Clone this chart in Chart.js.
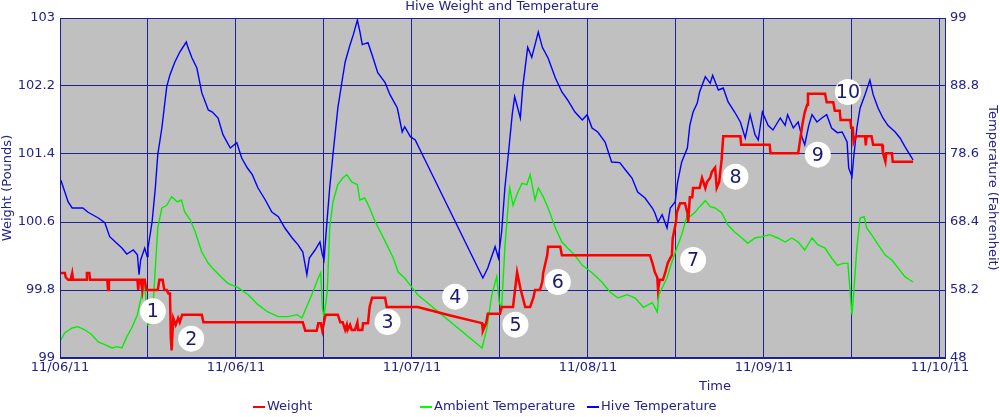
<!DOCTYPE html>
<html>
<head>
<meta charset="utf-8">
<script src="https://cdn.jsdelivr.net/npm/chart.js@4.4.1/dist/chart.umd.min.js"></script>
<style>
  html, body { margin: 0; padding: 0; background: #ffffff; }
  #wrap { width: 1000px; height: 417px; }
</style>
</head>
<body>
<div id="wrap"><canvas id="hiveChart" width="1000" height="417"></canvas></div>
<script>
// x values are hours since the first sample
const tickHours = [0, 10.8, 21.6, 32.4, 43.2, 54, 64.8, 75.6, 86.4, 97.2, 108];
const dateLabels = ['11/06/11', '11/06/11', '11/07/11', '11/08/11', '11/09/11', '11/10/11'];
const weightTicks = [99, 99.8, 100.6, 101.4, 102.2, 103];
const tempTicks = [48, 58.2, 68.4, 78.6, 88.8, 99];

// Weight (pounds)
const weightHours = [0.1, 0.6, 0.7, 1.0, 1.3, 1.5, 1.6, 3.2, 3.3, 3.6, 3.7, 5.8, 5.9, 6.0, 9.5, 9.6, 9.7, 9.9, 10.1, 10.2, 10.4, 10.6,
  12.0, 12.2, 12.6, 12.8, 13.1, 13.3, 13.5, 13.6, 13.7, 13.9, 14.2, 14.5, 14.7, 15.0, 17.4, 17.6, 29.8, 30.1, 31.5, 31.7, 32.0, 32.2,
  32.4, 32.6, 34.1, 34.4, 34.7, 35.0, 35.2, 35.3, 35.6, 35.8, 36.2, 36.5, 36.6, 37.1, 37.2, 37.8, 38.0, 38.3, 39.9, 40.1, 43.9, 47.9,
  51.8, 51.9, 52.3, 52.5, 54.0, 54.2, 55.6, 56.1, 56.5, 57.1, 57.7, 58.1, 58.3, 58.9, 59.2, 59.3, 59.8, 59.9, 61.4, 61.6, 72.4, 72.7,
  73.0, 73.3, 73.4, 73.6, 74.0, 74.3, 74.6, 75.1, 75.2, 75.6, 75.7, 76.1, 76.7, 77.0, 77.1, 77.3, 77.6, 77.7, 78.5, 78.8, 79.2, 79.4,
  79.8, 80.0, 80.4, 80.6, 80.9, 81.2, 81.4, 83.5, 83.6, 87.1, 87.2, 90.6, 90.8, 91.1, 91.4, 91.7, 91.8, 93.9, 94.1, 94.9, 95.1, 95.7,
  95.8, 97.0, 97.1, 97.3, 97.4, 97.7, 98.8, 98.9, 99.0, 99.6, 99.8, 100.9, 101.0, 101.3, 101.4, 102.1, 102.2, 104.7];
const weightValues = [100.0, 100.0, 99.95, 99.92, 99.92, 100.0, 99.92, 99.92, 100.0, 100.0, 99.92, 99.92, 99.8, 99.92, 99.92, 99.8, 99.92, 99.92, 99.8, 99.92, 99.92, 99.8,
  99.8, 99.92, 99.92, 99.8, 99.8, 99.76, 99.76, 99.24, 99.09, 99.47, 99.39, 99.47, 99.42, 99.51, 99.51, 99.42, 99.42, 99.32, 99.32, 99.41, 99.41, 99.32,
  99.42, 99.51, 99.51, 99.42, 99.42, 99.33, 99.39, 99.33, 99.39, 99.33, 99.33, 99.42, 99.33, 99.33, 99.41, 99.41, 99.6, 99.71, 99.71, 99.6, 99.6, 99.5,
  99.41, 99.32, 99.41, 99.52, 99.52, 99.6, 99.6, 100.01, 99.82, 99.6, 99.6, 99.71, 99.8, 99.8, 99.9, 100.0, 100.21, 100.31, 100.31, 100.21, 100.21, 100.12,
  100.01, 99.95, 99.8, 99.92, 99.92, 100.01, 100.12, 100.21, 100.41, 100.6, 100.71, 100.82, 100.82, 100.71, 100.6, 100.89, 100.89, 101.0, 101.0, 101.12, 101.0, 101.07,
  101.12, 101.19, 101.24, 101.0, 101.07, 101.33, 101.61, 101.61, 101.51, 101.51, 101.41, 101.41, 101.54, 101.74, 101.89, 101.98, 102.11, 102.11, 102.01, 102.01, 101.91, 101.91,
  101.8, 101.8, 101.71, 101.71, 101.54, 101.61, 101.61, 101.5, 101.61, 101.61, 101.51, 101.51, 101.41, 101.31, 101.41, 101.41, 101.31, 101.31];

// Ambient temperature (F)
const ambientHours = [0.1, 0.6, 1.5, 2.2, 3.1, 3.9, 4.7, 5.5, 6.4, 7.0, 7.6, 8.2, 8.8, 9.5, 10.1, 10.4, 10.8, 11.3, 11.7, 12.0, 12.5, 13.1,
  13.7, 14.4, 14.9, 15.3, 16.0, 16.6, 17.4, 18.2, 18.7, 19.9, 20.6, 21.8, 23.1, 24.3, 25.5, 26.8, 28.0, 29.1, 29.7, 30.1, 30.9, 31.7,
  32.0, 32.2, 32.4, 32.8, 33.1, 33.5, 34.1, 34.7, 35.2, 35.8, 36.5, 36.8, 37.4, 38.0, 38.7, 39.5, 40.1, 40.9, 41.5, 42.3, 43.2, 43.9,
  51.8, 52.4, 53.0, 53.6, 53.9, 54.2, 54.6, 55.1, 55.2, 55.6, 56.2, 56.7, 57.3, 57.7, 58.3, 58.7, 59.3, 59.9, 60.8, 61.6, 62.3, 63.2,
  64.1, 65.3, 66.5, 67.5, 68.5, 69.6, 70.6, 71.6, 72.7, 73.3, 73.5, 73.9, 74.5, 75.1, 75.7, 76.3, 77.0, 77.3, 77.9, 78.5, 79.2, 79.8,
  80.4, 81.2, 82.0, 82.8, 83.7, 84.4, 85.3, 86.2, 87.1, 88.1, 89.0, 89.8, 90.6, 91.4, 92.3, 93.0, 93.9, 94.7, 95.4, 96.1, 96.7, 97.0,
  97.2, 97.4, 97.8, 98.2, 98.7, 99.0, 99.6, 100.4, 101.3, 102.1, 102.8, 103.7, 104.3, 104.7];
const ambientValues = [50.7, 51.8, 52.5, 52.7, 52.2, 51.5, 50.4, 50.0, 49.5, 49.7, 49.5, 51.2, 52.5, 54.5, 57.9, 59.0, 53.0, 53.4, 61.5, 67.5, 70.5, 70.9,
  72.2, 71.4, 71.7, 69.9, 68.7, 66.9, 63.9, 62.2, 61.5, 60.0, 59.2, 58.6, 57.5, 56.0, 54.9, 54.2, 54.2, 54.5, 54.0, 55.2, 57.5, 60.0,
  60.8, 55.5, 54.2, 57.9, 67.5, 71.4, 74.0, 75.0, 75.5, 74.4, 74.0, 71.7, 72.0, 70.5, 68.4, 66.5, 65.0, 63.0, 60.9, 60.0, 58.6, 57.5,
  49.5, 52.5, 57.5, 60.2, 56.4, 55.5, 64.5, 72.5, 73.5, 70.9, 72.9, 74.2, 74.0, 75.5, 71.7, 73.5, 72.2, 70.5, 67.5, 65.4, 64.5, 63.4,
  61.9, 60.8, 59.4, 57.9, 57.0, 57.5, 57.0, 55.6, 56.3, 54.9, 57.5, 58.5, 60.0, 62.4, 64.5, 66.5, 69.5, 69.2, 69.8, 70.7, 71.6, 70.7,
  70.5, 69.8, 67.9, 66.9, 66.0, 65.2, 66.0, 66.2, 66.5, 66.0, 65.4, 66.0, 65.4, 64.2, 66.0, 65.0, 64.5, 63.0, 61.9, 62.2, 62.2, 57.5,
  54.5, 57.5, 64.5, 69.0, 69.2, 67.5, 66.5, 65.0, 63.4, 62.7, 61.6, 60.2, 59.7, 59.4];

// Hive temperature (F)
const hiveHours = [0.1, 1.0, 1.5, 2.8, 3.4, 4.7, 5.5, 6.1, 6.8, 7.6, 8.2, 9.0, 9.5, 9.7, 9.9, 10.4, 10.7, 10.8, 11.3, 11.7, 12.0, 12.5,
  13.1, 13.5, 14.1, 14.7, 15.5, 15.7, 16.2, 16.8, 17.4, 18.2, 18.7, 19.4, 20.0, 20.9, 21.7, 22.3, 23.0, 23.6, 24.3, 25.2, 26.0, 26.8,
  27.6, 28.5, 29.2, 29.8, 30.3, 30.6, 31.3, 31.9, 32.2, 32.4, 32.8, 33.1, 33.5, 34.1, 34.6, 35.0, 35.6, 36.0, 36.5, 36.8, 37.1, 37.8,
  38.3, 39.0, 39.9, 40.5, 41.4, 42.0, 42.3, 43.0, 43.6, 44.2, 51.9, 52.5, 53.4, 53.8, 54.2, 54.6, 55.1, 55.5, 55.8, 56.5, 56.8, 57.4,
  57.9, 58.7, 59.2, 59.9, 60.8, 61.6, 62.3, 63.2, 64.1, 64.7, 65.3, 66.0, 66.9, 67.7, 68.7, 69.6, 70.2, 70.9, 71.8, 72.7, 73.0, 73.4,
  73.9, 74.5, 74.9, 75.5, 75.8, 76.3, 77.0, 77.3, 77.7, 78.2, 78.5, 79.2, 79.8, 80.1, 80.8, 81.4, 82.0, 82.8, 83.5, 84.1, 84.7, 85.3,
  85.7, 86.2, 86.9, 87.5, 88.4, 89.0, 89.3, 90.0, 90.6, 91.1, 91.4, 91.9, 92.3, 92.9, 93.5, 94.1, 94.7, 95.4, 96.0, 96.6, 96.8, 97.2,
  97.4, 97.8, 98.2, 98.8, 99.4, 99.8, 100.4, 101.0, 101.6, 102.5, 103.1, 103.7, 104.3, 104.7];
const hiveValues = [74.7, 71.4, 70.5, 70.5, 69.9, 69.0, 68.3, 66.2, 65.4, 64.5, 63.6, 64.2, 63.5, 60.5, 62.7, 64.5, 63.2, 64.5, 68.4, 73.5, 78.5, 82.5,
  88.7, 90.5, 92.4, 93.9, 95.4, 94.6, 93.0, 91.5, 87.8, 85.2, 84.9, 84.0, 81.5, 79.5, 80.3, 78.0, 76.5, 75.5, 73.5, 71.7, 69.9, 69.2,
  67.5, 66.0, 65.0, 63.9, 60.5, 63.0, 64.2, 65.4, 63.5, 62.7, 69.0, 73.5, 78.5, 85.5, 89.4, 92.4, 95.0, 96.5, 98.7, 97.0, 95.0, 95.3,
  93.5, 90.8, 89.3, 87.5, 85.5, 81.9, 82.7, 81.2, 80.7, 79.2, 60.0, 61.5, 64.7, 63.0, 66.9, 73.5, 79.5, 84.5, 87.2, 84.0, 88.7, 94.6,
  93.1, 96.9, 94.6, 93.0, 90.0, 87.9, 86.7, 84.9, 83.7, 84.5, 82.5, 81.9, 80.4, 77.4, 77.3, 75.9, 75.0, 72.9, 72.0, 70.5, 69.8, 68.4,
  69.5, 67.5, 70.5, 71.4, 74.4, 77.4, 79.5, 82.9, 84.9, 86.2, 87.9, 90.2, 89.2, 90.4, 88.2, 88.5, 86.4, 84.9, 83.4, 81.0, 84.5, 81.5,
  80.7, 84.9, 82.9, 82.2, 84.0, 82.9, 84.5, 82.5, 83.4, 81.0, 80.0, 82.9, 84.5, 83.4, 84.0, 84.5, 82.5, 81.8, 81.9, 80.4, 76.5, 75.2,
  78.0, 82.5, 85.5, 87.5, 89.7, 87.5, 85.5, 84.0, 82.9, 81.9, 81.0, 79.7, 78.5, 77.7];

// numbered notes, placed in hours / temperature units
const noteLabels = ['1', '2', '3', '4', '5', '6', '7', '8', '9', '10'];
const noteHours = [11.4, 16.1, 40.2, 48.5, 55.9, 61.1, 77.7, 82.9, 93.0, 96.7];
const noteTemps = [55.0, 50.9, 53.4, 57.2, 53.0, 59.4, 62.7, 75.2, 78.5, 87.9];

const navy = '#22228a';
const gridColor = '#1f1f96';
const fontFamily = '"DejaVu Sans", Verdana, sans-serif';

const toPoints = (xs, ys) => xs.map((x, i) => ({ x: x, y: ys[i] }));

const extrasPlugin = {
    id: 'extras',
    beforeDraw(chart) {
        const { ctx, chartArea } = chart;
        ctx.save();
        ctx.fillStyle = '#ffffff';
        ctx.fillRect(0, 0, chart.width, chart.height);
        ctx.fillStyle = '#c0c0c0';
        ctx.fillRect(chartArea.left, chartArea.top, chartArea.right - chartArea.left, chartArea.bottom - chartArea.top);
        ctx.restore();
    },
    afterDatasetsDraw(chart) {
        const { ctx } = chart;
        const xs = chart.scales.x;
        const yt = chart.scales.yTemp;
        ctx.save();
        noteLabels.forEach((lab, i) => {
            const px = xs.getPixelForValue(noteHours[i]);
            const py = yt.getPixelForValue(noteTemps[i]);
            ctx.beginPath();
            ctx.arc(px, py, 13, 0, Math.PI * 2);
            ctx.fillStyle = '#ffffff';
            ctx.fill();
            ctx.fillStyle = '#1a1a6e';
            ctx.font = '19px ' + fontFamily;
            ctx.textAlign = 'center';
            ctx.textBaseline = 'middle';
            ctx.fillText(lab, px, py + 1);
        });
        ctx.restore();
    },
    afterDraw(chart) {
        const { ctx, chartArea } = chart;
        ctx.save();
        ctx.strokeStyle = gridColor;
        ctx.lineWidth = 1;
        ctx.strokeRect(chartArea.left + 0.5, chartArea.top + 0.5, chartArea.right - chartArea.left - 1, chartArea.bottom - chartArea.top - 1);

        ctx.fillStyle = navy;
        ctx.font = '13px ' + fontFamily;
        ctx.textAlign = 'center';
        ctx.textBaseline = 'middle';
        ctx.fillText('Hive Weight and Temperature', 502, 7);
        ctx.fillText('Time', 715, 387);

        // legend
        const items = [
            { text: 'Weight', color: '#ff0000', x: 253 },
            { text: 'Ambient Temperature', color: '#00ff00', x: 420 },
            { text: 'Hive Temperature', color: '#0000ff', x: 587 }
        ];
        ctx.textAlign = 'left';
        items.forEach(it => {
            ctx.fillStyle = it.color;
            ctx.fillRect(it.x, 406, 12, 2);
            ctx.fillStyle = navy;
            ctx.fillText(it.text, it.x + 14, 407);
        });
        ctx.restore();
    }
};

const ctx = document.getElementById('hiveChart').getContext('2d');
const hiveChart = new Chart(ctx, {
    type: 'line',
    data: {
        datasets: [
            {
                label: 'Weight',
                data: toPoints(weightHours, weightValues),
                yAxisID: 'yWeight',
                borderColor: '#ff0000',
                borderWidth: 2.5,
                pointRadius: 0,
                tension: 0
            },
            {
                label: 'Ambient Temperature',
                data: toPoints(ambientHours, ambientValues),
                yAxisID: 'yTemp',
                borderColor: '#00f000',
                borderWidth: 1.4,
                pointRadius: 0,
                tension: 0
            },
            {
                label: 'Hive Temperature',
                data: toPoints(hiveHours, hiveValues),
                yAxisID: 'yTemp',
                borderColor: '#0000ff',
                borderWidth: 1.4,
                pointRadius: 0,
                tension: 0
            }
        ]
    },
    options: {
        responsive: false,
        animation: false,
        layout: { padding: { top: 18, left: 0, right: 0, bottom: 0 } },
        plugins: {
            legend: { display: false },
            title: { display: false },
            tooltip: { enabled: false }
        },
        scales: {
            x: {
                type: 'linear',
                min: 0,
                max: 108.74,
                afterBuildTicks: scale => { scale.ticks = tickHours.map(v => ({ value: v })); },
                afterFit: scale => { scale.height = 59; },
                grid: { color: gridColor, lineWidth: 1, drawTicks: false },
                border: { display: false },
                ticks: {
                    autoSkip: false,
                    maxRotation: 0,
                    padding: 2,
                    color: navy,
                    font: { family: fontFamily, size: 13 },
                    callback: (value, index) => (index % 2 === 0 ? dateLabels[index / 2] : '')
                }
            },
            yWeight: {
                type: 'linear',
                position: 'left',
                min: 99,
                max: 103,
                afterBuildTicks: scale => { scale.ticks = weightTicks.map(v => ({ value: v })); },
                afterFit: scale => { scale.width = 60; },
                grid: { color: gridColor, lineWidth: 1, drawTicks: false },
                border: { display: false },
                title: {
                    display: true,
                    text: 'Weight (Pounds)',
                    color: navy,
                    font: { family: fontFamily, size: 13 },
                    padding: { top: 0, bottom: 0 }
                },
                ticks: {
                    padding: 5,
                    color: navy,
                    font: { family: fontFamily, size: 13 },
                    callback: value => String(value)
                }
            },
            yTemp: {
                type: 'linear',
                position: 'right',
                min: 48,
                max: 99,
                afterBuildTicks: scale => { scale.ticks = tempTicks.map(v => ({ value: v })); },
                afterFit: scale => { scale.width = 54; },
                grid: { display: false, drawTicks: false },
                border: { display: false },
                title: {
                    display: true,
                    text: 'Temperature (Fahrenheit)',
                    color: navy,
                    font: { family: fontFamily, size: 13 },
                    padding: { top: 0, bottom: 2 }
                },
                ticks: {
                    padding: 4,
                    color: navy,
                    font: { family: fontFamily, size: 13 },
                    callback: value => String(value)
                }
            }
        }
    },
    plugins: [extrasPlugin]
});
</script>
</body>
</html>
